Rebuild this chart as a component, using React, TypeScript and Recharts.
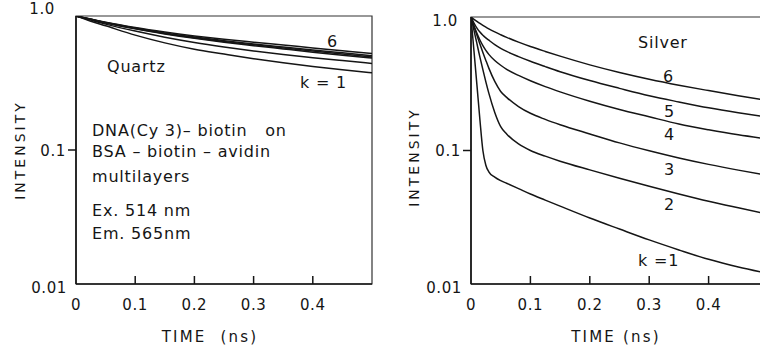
import { Line, LineChart, ReferenceArea, XAxis, YAxis } from "recharts";

// Fluorescence decay, DNA(Cy3)-biotin on quartz vs. silver, k = number of layers
const quartzTime = [0, 0.025, 0.05, 0.1, 0.15, 0.2, 0.25, 0.3, 0.35, 0.4, 0.45, 0.5];
const quartzK1 = [1, 0.915, 0.845, 0.72, 0.63, 0.565, 0.52, 0.48, 0.447, 0.42, 0.397, 0.377];
const quartzK2 = [1, 0.932, 0.87, 0.772, 0.695, 0.635, 0.588, 0.549, 0.516, 0.489, 0.465, 0.443];
const quartzK3 = [1, 0.942, 0.888, 0.802, 0.735, 0.681, 0.637, 0.601, 0.568, 0.537, 0.509, 0.485];
const quartzK4 = [1, 0.944, 0.891, 0.807, 0.741, 0.689, 0.646, 0.61, 0.577, 0.547, 0.52, 0.495];
const quartzK5 = [1, 0.946, 0.894, 0.813, 0.748, 0.697, 0.655, 0.618, 0.586, 0.557, 0.531, 0.506];
const quartzK6 = [1, 0.948, 0.899, 0.82, 0.759, 0.71, 0.67, 0.637, 0.607, 0.578, 0.551, 0.525];

const silverTime = [
	0, 0.005, 0.01, 0.015, 0.02, 0.025, 0.03, 0.04, 0.05, 0.06, 0.08, 0.1, 0.125, 0.15, 0.2, 0.25,
	0.3, 0.35, 0.4, 0.45, 0.5,
];
const silverK1 = [
	1, 0.556, 0.309, 0.17, 0.1, 0.0776, 0.0692, 0.0631, 0.0594, 0.0568, 0.0518, 0.0472, 0.0425,
	0.0383, 0.0312, 0.0258, 0.0214, 0.018, 0.0153, 0.0134, 0.012,
];
const silverK2 = [
	1, 0.794, 0.631, 0.501, 0.403, 0.327, 0.269, 0.193, 0.151, 0.133, 0.112, 0.1, 0.0907, 0.0832,
	0.0716, 0.062, 0.054, 0.0473, 0.0417, 0.0372, 0.0333,
];
const silverK3 = [
	1, 0.851, 0.729, 0.627, 0.543, 0.473, 0.414, 0.329, 0.277, 0.25, 0.2135, 0.19, 0.171, 0.156,
	0.133, 0.114, 0.0995, 0.0879, 0.0787, 0.0713, 0.0652,
];
const silverK4 = [
	1, 0.861, 0.754, 0.672, 0.61, 0.562, 0.525, 0.472, 0.435, 0.406, 0.365, 0.333, 0.301, 0.275,
	0.234, 0.203, 0.179, 0.158, 0.143, 0.131, 0.122,
];
const silverK5 = [
	1, 0.902, 0.826, 0.771, 0.729, 0.697, 0.67, 0.621, 0.583, 0.552, 0.505, 0.466, 0.425, 0.389,
	0.334, 0.292, 0.257, 0.231, 0.209, 0.192, 0.178,
];
const silverK6 = [
	1, 0.9605, 0.926, 0.894, 0.865, 0.839, 0.815, 0.773, 0.737, 0.704, 0.648, 0.601, 0.552, 0.509,
	0.438, 0.384, 0.342, 0.3085, 0.281, 0.257, 0.2367,
];

const xTicks = [0, 0.1, 0.2, 0.3, 0.4];
const yTicks = [0.01, 0.1, 1];
const seriesKeys = ["k1", "k2", "k3", "k4", "k5", "k6"];

const FONT = '"DejaVu Sans", sans-serif';
const INK = "#151515";

type Row = Record<string, number>;

function buildRows(time: number[], series: number[][]): Row[] {
	return time.map((t, i) => {
		const row: Row = { t };
		series.forEach((values, j) => {
			row[seriesKeys[j]] = values[i];
		});
		return row;
	});
}

const quartzRows = buildRows(quartzTime, [quartzK1, quartzK2, quartzK3, quartzK4, quartzK5, quartzK6]);
const silverRows = buildRows(silverTime, [silverK1, silverK2, silverK3, silverK4, silverK5, silverK6]);

function XTick(props: any) {
	const { x, y, payload } = props;
	const v = payload.value as number;
	return (
		<g>
			{v !== 0 && <line x1={x} x2={x} y1={y} y2={y - 8} stroke={INK} strokeWidth={1.5} />}
			<text
				x={x}
				y={y + 26}
				textAnchor="middle"
				fontFamily={FONT}
				fontSize={15}
				letterSpacing={0.6}
				fill={INK}
			>
				{v === 0 ? "0" : v.toFixed(1)}
			</text>
		</g>
	);
}

// labels sit a little off the tick at the top and bottom of the log axis
function makeYTick(topDx: number, topDy: number) {
	return function YTick(props: any) {
		const { x, y, payload } = props;
		const v = payload.value as number;
		const label = v === 1 ? "1.0" : v === 0.1 ? "0.1" : "0.01";
		const dx = v === 1 ? topDx : v === 0.1 ? 10 : 9;
		const dy = v === 1 ? topDy : v === 0.1 ? 0 : 3;
		return (
			<g>
				{v === 0.1 && <line x1={x - 8} x2={x} y1={y} y2={y} stroke={INK} strokeWidth={1.5} />}
				<text
					x={x - dx}
					y={y + dy + 5.5}
					textAnchor="end"
					fontFamily={FONT}
					fontSize={15}
					letterSpacing={0.6}
					fill={INK}
				>
					{label}
				</text>
			</g>
		);
	};
}

type PanelProps = {
	rows: Row[];
	width: number;
	top: number;
	right: number;
	yAxisWidth: number;
	topDx: number;
	topDy: number;
};

function DecayPanel({ rows, width, top, right, yAxisWidth, topDx, topDy }: PanelProps) {
	return (
		<LineChart
			width={width}
			height={352}
			data={rows}
			margin={{ top, right, bottom: 28, left: 0 }}
		>
			<XAxis
				dataKey="t"
				type="number"
				domain={[0, 0.5]}
				ticks={xTicks}
				allowDataOverflow
				height={40}
				tickSize={0}
				tickMargin={0}
				tickLine={false}
				axisLine={{ stroke: INK, strokeWidth: 1.6 }}
				tick={XTick}
			/>
			<YAxis
				type="number"
				scale="log"
				domain={[0.01, 1]}
				ticks={yTicks}
				allowDataOverflow
				width={yAxisWidth}
				tickSize={0}
				tickMargin={0}
				tickLine={false}
				axisLine={{ stroke: INK, strokeWidth: 1.6 }}
				tick={makeYTick(topDx, topDy)}
			/>
			<ReferenceArea
				x1={0}
				x2={0.5}
				y1={0.01}
				y2={1}
				fill="none"
				fillOpacity={0}
				stroke="#333"
				strokeWidth={1.2}
			/>
			{seriesKeys.map((key) => (
				<Line
					key={key}
					dataKey={key}
					type="monotone"
					stroke={INK}
					strokeWidth={1.5}
					dot={false}
					activeDot={false}
					isAnimationActive={false}
				/>
			))}
		</LineChart>
	);
}

const textStyle = {
	fontFamily: FONT,
	fontSize: 16,
	fill: INK,
	letterSpacing: 0.8,
	whiteSpace: "pre" as const,
};

export default function App() {
	return (
		<div
			style={{
				position: "relative",
				width: 760,
				height: 352,
				overflow: "hidden",
				background: "#fff",
			}}
		>
			<style>{"body{margin:0}"}</style>
			<div style={{ position: "absolute", left: 0, top: 0 }}>
				<DecayPanel
					rows={quartzRows}
					width={380}
					top={16}
					right={8}
					yAxisWidth={76}
					topDx={21}
					topDy={-8}
				/>
			</div>
			<div style={{ position: "absolute", left: 380, top: 0 }}>
				<DecayPanel
					rows={silverRows}
					width={390}
					top={17}
					right={2}
					yAxisWidth={91}
					topDx={13}
					topDy={3}
				/>
			</div>
			<svg
				width={760}
				height={352}
				style={{ position: "absolute", left: 0, top: 0, pointerEvents: "none" }}
			>
				{/* axis titles */}
				<text x={20} y={155} transform="rotate(-90 20 150)" textAnchor="middle" style={{ ...textStyle, fontSize: 14, letterSpacing: 3 }}>
					INTENSITY
				</text>
				<text x={414} y={162} transform="rotate(-90 414 157)" textAnchor="middle" style={{ ...textStyle, fontSize: 14, letterSpacing: 3 }}>
					INTENSITY
				</text>
				<text x={210} y={342} textAnchor="middle" style={{ ...textStyle, fontSize: 15, letterSpacing: 2.2 }}>
					{"TIME  (ns)"}
				</text>
				<text x={616} y={342} textAnchor="middle" style={{ ...textStyle, fontSize: 15, letterSpacing: 2.2 }}>
					{"TIME (ns)"}
				</text>

				{/* quartz panel notes */}
				<text x={107} y={72} style={textStyle}>Quartz</text>
				<text x={327} y={47} style={textStyle}>6</text>
				<text x={300} y={88} style={textStyle}>{"k = 1"}</text>
				<text x={92} y={136} style={textStyle}>{"DNA(Cy 3)– biotin   on"}</text>
				<text x={92} y={157} style={textStyle}>{"BSA – biotin – avidin"}</text>
				<text x={92} y={182} style={textStyle}>multilayers</text>
				<text x={92} y={216} style={textStyle}>{"Ex. 514 nm"}</text>
				<text x={92} y={239} style={textStyle}>{"Em. 565nm"}</text>

				{/* silver panel notes */}
				<text x={638} y={48} style={textStyle}>Silver</text>
				<text x={663} y={82} style={textStyle}>6</text>
				<text x={664} y={117} style={textStyle}>5</text>
				<text x={664} y={140} style={textStyle}>4</text>
				<text x={664} y={175} style={textStyle}>3</text>
				<text x={664} y={210} style={textStyle}>2</text>
				<text x={638} y={266} style={textStyle}>{"k =1"}</text>
			</svg>
		</div>
	);
}
